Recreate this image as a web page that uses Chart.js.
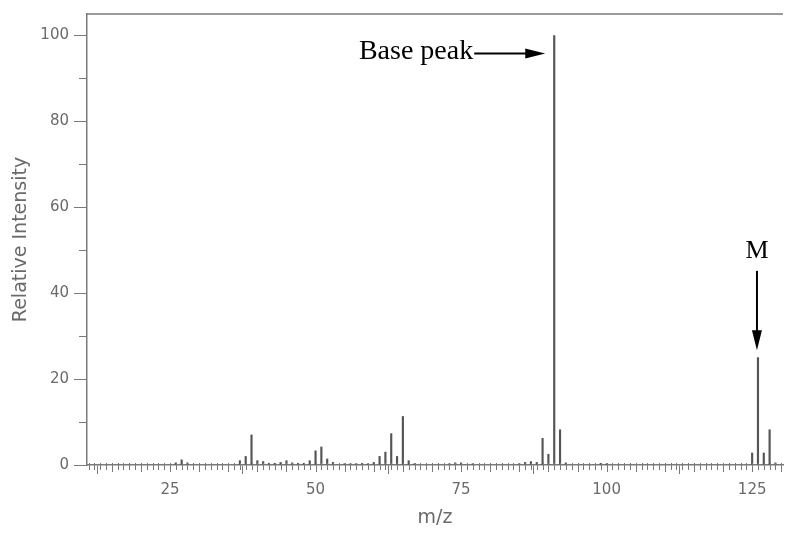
<!DOCTYPE html>
<html>
<head>
<meta charset="utf-8">
<script src="https://cdn.jsdelivr.net/npm/chart.js@4/dist/chart.umd.min.js"></script>
<style>
  html, body { margin: 0; padding: 0; background: #fff; }
</style>
</head>
<body>
<canvas id="spectrum" width="794" height="535"></canvas>
<script>
// m/z values and relative intensities
const masses = [26, 27, 28, 37, 38, 39, 40, 41, 42, 43, 44, 45, 46, 47, 48, 49, 50, 51, 52, 53,
    55, 56, 57, 58, 59, 60, 61, 62, 63, 64, 65, 66, 67, 73, 74, 75, 77, 85, 86, 87, 88,
    89, 90, 91, 92, 93, 99, 100, 125, 126, 127, 128, 129];
const intensities = [0.5, 1.2, 0.5, 1.0, 2.0, 7.0, 1.0, 0.8, 0.4, 0.4, 0.6, 1.0, 0.5, 0.4, 0.4, 1.0, 3.3, 4.2, 1.4, 0.6,
    0.3, 0.3, 0.3, 0.4, 0.3, 0.6, 2.0, 3.0, 7.3, 2.0, 11.3, 1.0, 0.3, 0.3, 0.5, 0.5, 0.3, 0.3, 0.6, 0.8, 0.6,
    6.2, 2.5, 100, 8.2, 0.5, 0.4, 0.3, 2.8, 25, 2.8, 8.2, 0.5];

const xLabels = [25, 50, 75, 100, 125];
const yLabels = [0, 20, 40, 60, 80, 100];
const yMinor = [10, 30, 50, 70, 90];

const axisColor = '#7a7a7a';
const textColor = '#6a6a6a';

// Extra decorations: minor ticks, top frame line, arrows with labels
const decorations = {
    id: 'decorations',
    afterDraw(chart) {
        const { ctx, chartArea, scales: { x, y } } = chart;
        ctx.save();
        ctx.strokeStyle = axisColor;
        ctx.lineWidth = 1.5;

        // top frame line
        ctx.beginPath();
        ctx.moveTo(chartArea.left, chartArea.top);
        ctx.lineTo(chartArea.right, chartArea.top);
        ctx.stroke();

        // unit ticks on the m/z axis
        ctx.lineWidth = 1;
        const y0 = chartArea.bottom;
        for (let m = Math.ceil(x.min); m <= x.max; m++) {
            const px = Math.round(x.getPixelForValue(m)) + 0.5;
            const len = m % 5 === 0 ? 7 : 5;
            ctx.beginPath();
            ctx.moveTo(px, y0 - 2);
            ctx.lineTo(px, y0 + len);
            ctx.stroke();
        }

        // minor ticks on the intensity axis
        yMinor.forEach((v) => {
            const py = Math.round(y.getPixelForValue(v)) + 0.5;
            ctx.beginPath();
            ctx.moveTo(chartArea.left - 8, py);
            ctx.lineTo(chartArea.left, py);
            ctx.stroke();
        });

        // arrows
        ctx.fillStyle = '#000';
        ctx.strokeStyle = '#000';
        ctx.lineWidth = 2;
        ctx.font = '28px "Liberation Serif"';

        const xb = x.getPixelForValue(91);
        const yb = y.getPixelForValue(95.8);
        ctx.beginPath();
        ctx.moveTo(xb - 80, yb);
        ctx.lineTo(xb - 25, yb);
        ctx.stroke();
        ctx.beginPath();
        ctx.moveTo(xb - 9, yb);
        ctx.lineTo(xb - 29, yb - 5);
        ctx.lineTo(xb - 29, yb + 5);
        ctx.closePath();
        ctx.fill();
        ctx.textAlign = 'right';
        ctx.textBaseline = 'alphabetic';
        ctx.fillText('Base peak', xb - 81, yb + 5);

        const xm = x.getPixelForValue(126) - 1;
        const yTip = y.getPixelForValue(26.7);
        const yTop = y.getPixelForValue(45.2);
        ctx.beginPath();
        ctx.moveTo(xm, yTop);
        ctx.lineTo(xm, yTip - 15);
        ctx.stroke();
        ctx.beginPath();
        ctx.moveTo(xm, yTip);
        ctx.lineTo(xm - 5, yTip - 20);
        ctx.lineTo(xm + 5, yTip - 20);
        ctx.closePath();
        ctx.fill();
        ctx.textAlign = 'center';
        ctx.font = '26px "Liberation Serif"';
        ctx.fillText('M', xm, y.getPixelForValue(50.3) + 9);

        ctx.restore();
    }
};

const ctx = document.getElementById('spectrum').getContext('2d');
new Chart(ctx, {
    type: 'bar',
    data: {
        datasets: [
            {
                label: 'Relative Intensity',
                data: masses.map((m, i) => ({ x: m, y: intensities[i] })),
                backgroundColor: '#555',
                barThickness: 1.5,
            },
        ],
    },
    options: {
        responsive: false,
        animation: false,
        layout: { padding: { top: 12, right: 11, left: 0, bottom: 0 } },
        plugins: {
            legend: { display: false },
            tooltip: { enabled: false },
        },
        scales: {
            x: {
                type: 'linear',
                min: 10.74,
                max: 130.3,
                offset: false,
                afterFit: (scale) => { scale.height = 70; },
                afterBuildTicks: (scale) => {
                    scale.ticks = xLabels.map((v) => ({ value: v }));
                },
                grid: { drawOnChartArea: false, tickLength: 9, color: axisColor, tickWidth: 1 },
                border: { color: axisColor, width: 1.5 },
                ticks: {
                    color: textColor,
                    font: { family: 'DejaVu Sans', size: 15 },
                    padding: 7,
                    maxRotation: 0,
                    autoSkip: false,
                },
                title: {
                    display: true,
                    text: 'm/z',
                    color: textColor,
                    font: { family: 'DejaVu Sans', size: 19 },
                    padding: { top: 0, bottom: 6 },
                },
            },
            y: {
                min: 0,
                max: 105,
                afterFit: (scale) => { scale.width = 87; },
                afterBuildTicks: (scale) => {
                    scale.ticks = yLabels.map((v) => ({ value: v }));
                },
                grid: { drawOnChartArea: false, tickLength: 13, color: axisColor, tickWidth: 1 },
                border: { color: axisColor, width: 1.5 },
                ticks: {
                    color: textColor,
                    font: { family: 'DejaVu Sans', size: 15 },
                    padding: 5,
                },
                title: {
                    display: true,
                    text: 'Relative Intensity',
                    color: textColor,
                    font: { family: 'DejaVu Sans', size: 19 },
                    padding: { top: 10, bottom: 0 },
                },
            },
        },
    },
    plugins: [decorations],
});
</script>
</body>
</html>
